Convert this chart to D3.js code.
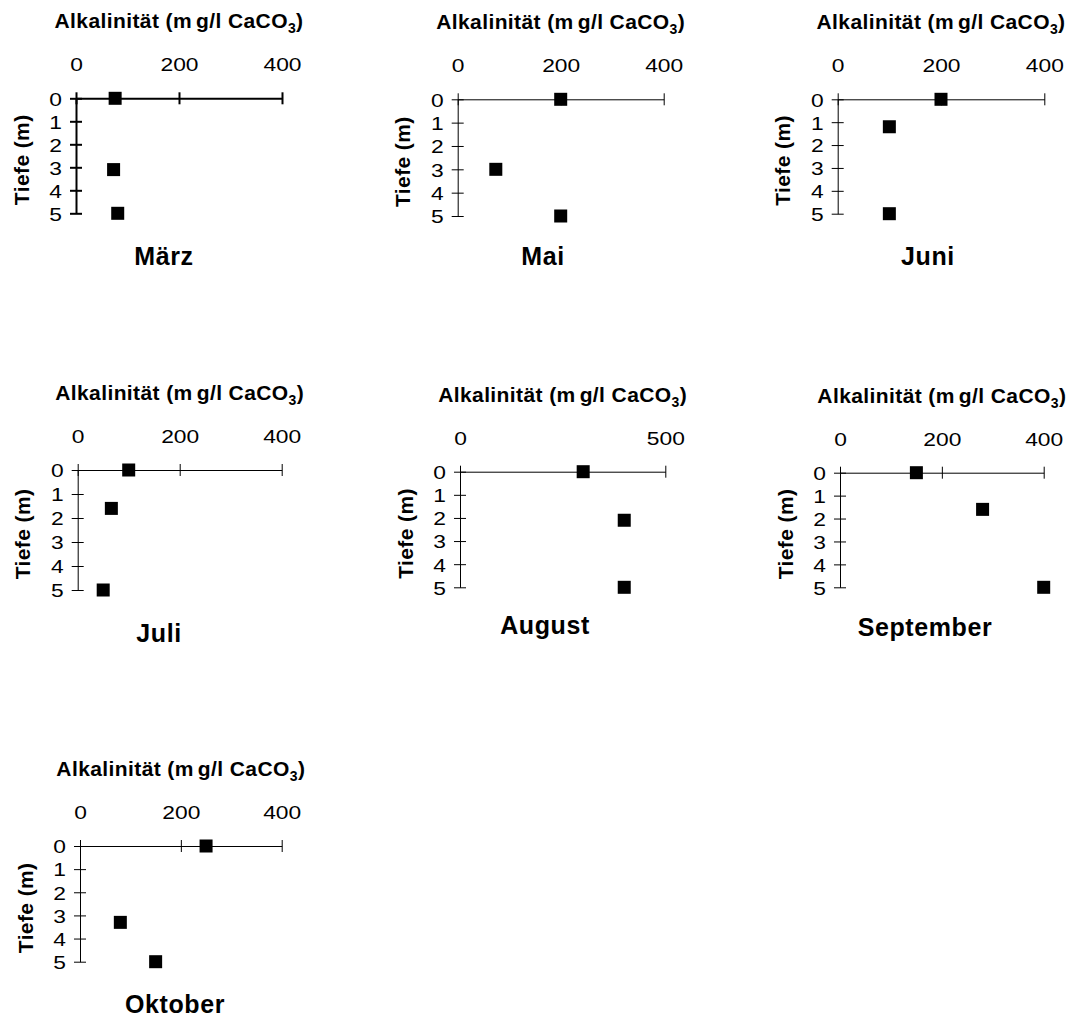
<!DOCTYPE html>
<html>
<head>
<meta charset="utf-8">
<script src="https://cdn.jsdelivr.net/npm/d3@7"></script>
<style>
  html, body { margin: 0; padding: 0; background: #fff; }
  svg text { font-family: "Liberation Sans", Arial, sans-serif; fill: #000; }
</style>
</head>
<body>
<svg id="chart" width="1077" height="1017"></svg>
<script>
// Monthly depth profiles of alkalinity (mg/l CaCO3)
const months = ["März", "Mai", "Juni", "Juli", "August", "September", "Oktober"];
const depthTicks = [0, 1, 2, 3, 4, 5];
const alkTicks400 = [0, 200, 400];
const alkTicks500 = [0, 500];

const tiefeMaerz = [0, 3.1, 5];     const alkMaerz = [76, 73, 81];
const tiefeMai = [0, 3, 5];         const alkMai = [200, 74, 200];
const tiefeJuni = [0, 1.2, 5];      const alkJuni = [200, 100, 100];
const tiefeJuli = [0, 1.6, 5];      const alkJuli = [100, 66, 50];
const tiefeAugust = [0, 2.1, 5];    const alkAugust = [300, 400, 400];
const tiefeSeptember = [0, 1.6, 5]; const alkSeptember = [150, 280, 400];
const tiefeOktober = [0, 3.3, 5];   const alkOktober = [250, 80, 150];

const series = [
  { tiefe: tiefeMaerz, alk: alkMaerz, ticks: alkTicks400 },
  { tiefe: tiefeMai, alk: alkMai, ticks: alkTicks400 },
  { tiefe: tiefeJuni, alk: alkJuni, ticks: alkTicks400 },
  { tiefe: tiefeJuli, alk: alkJuli, ticks: alkTicks400 },
  { tiefe: tiefeAugust, alk: alkAugust, ticks: alkTicks500 },
  { tiefe: tiefeSeptember, alk: alkSeptember, ticks: alkTicks400 },
  { tiefe: tiefeOktober, alk: alkOktober, ticks: alkTicks400 }
];

// Panel placement on the page
const panels = [
  { x0: 76,    x1: 282,    y0: 98.3,  y5: 213.3, lx: 164, ly: 265,  stroke: 2 },
  { x0: 457.7, x1: 663.7,  y0: 99.3,  y5: 216,   lx: 543, ly: 265,  stroke: 1 },
  { x0: 837.7, x1: 1044.3, y0: 99.3,  y5: 213.7, lx: 928, ly: 265,  stroke: 1 },
  { x0: 77.7,  x1: 281.7,  y0: 470,   y5: 590,   lx: 159, ly: 642,  stroke: 1 },
  { x0: 460,   x1: 665.3,  y0: 471.7, y5: 587.3, lx: 545, ly: 634,  stroke: 1 },
  { x0: 840,   x1: 1043.7, y0: 472.7, y5: 587.3, lx: 925, ly: 636,  stroke: 1 },
  { x0: 80,    x1: 281.7,  y0: 846,   y5: 961.7, lx: 175, ly: 1013, stroke: 1 }
];

const svg = d3.select("#chart");
const markW = 13, markH = 13;
const numStretch = 1.2;   // wide numerals on the axes

series.forEach((s, i) => {
  const p = panels[i];
  const xMax = s.ticks[s.ticks.length - 1];
  const x = d3.scaleLinear().domain([0, xMax]).range([p.x0, p.x1]);
  const y = d3.scaleLinear().domain([0, 5]).range([p.y0, p.y5]);
  const g = svg.append("g").attr("class", "panel");

  // horizontal alkalinity axis along depth 0
  const xAxis = g.append("g")
    .attr("transform", `translate(0,${y(0)})`)
    .call(d3.axisTop(x).tickValues(s.ticks).tickSizeInner(6).tickSizeOuter(0).tickFormat(d3.format("d")));
  xAxis.selectAll(".tick line").attr("y1", 6).attr("y2", -6);
  xAxis.selectAll(".tick text").attr("y", -27).attr("dy", 0)
    .attr("font-size", 19)
    .attr("transform", `scale(${numStretch},1)`);

  // vertical depth axis
  const yAxis = g.append("g")
    .attr("transform", `translate(${x(0)},0)`)
    .call(d3.axisLeft(y).tickValues(depthTicks).tickSizeInner(6).tickSizeOuter(0).tickFormat(d3.format("d")));
  yAxis.selectAll(".tick line").attr("x1", -6).attr("x2", 6);
  yAxis.selectAll(".tick text").attr("x", -14 / numStretch).attr("dy", "0.36em")
    .attr("font-size", 19)
    .attr("transform", `scale(${numStretch},1)`);

  [xAxis, yAxis].forEach(a => {
    a.select(".domain").attr("stroke", "#000").attr("stroke-width", p.stroke);
    a.selectAll(".tick line").attr("stroke", "#000").attr("stroke-width", p.stroke);
    a.attr("font-family", null).attr("font-size", null);
  });

  // axis title with subscript
  const t = g.append("text")
    .attr("x", (p.x0 + p.x1) / 2)
    .attr("y", p.y0 - 70)
    .attr("text-anchor", "middle")
    .attr("font-size", 21)
    .attr("font-weight", "bold")
    .style("letter-spacing", "0.4px");
  t.append("tspan").text("Alkalinität (m");
  t.append("tspan").attr("dx", 4).text("g/l CaCO");
  t.append("tspan").attr("dy", 5).attr("font-size", 14).text("3");
  t.append("tspan").attr("dy", -5).text(")");

  // depth label
  g.append("text")
    .attr("transform", `translate(${p.x0 - 55},${(p.y0 + p.y5) / 2 + 4}) rotate(-90)`)
    .attr("text-anchor", "middle")
    .attr("dy", "0.36em")
    .attr("font-size", 21)
    .attr("font-weight", "bold")
    .style("letter-spacing", "0.4px")
    .text("Tiefe (m)");

  // month name
  g.append("text")
    .attr("x", p.lx)
    .attr("y", p.ly)
    .attr("text-anchor", "middle")
    .attr("font-size", 25)
    .attr("font-weight", "bold")
    .style("letter-spacing", "0.6px")
    .text(months[i]);

  // measured points
  g.selectAll("rect.pt")
    .data(s.alk.map((v, j) => ({ v, d: s.tiefe[j] })))
    .join("rect")
    .attr("class", "pt")
    .attr("x", d => x(d.v) - markW / 2)
    .attr("y", d => y(d.d) - markH / 2)
    .attr("width", markW)
    .attr("height", markH)
    .attr("fill", "#000");
});
</script>
</body>
</html>
